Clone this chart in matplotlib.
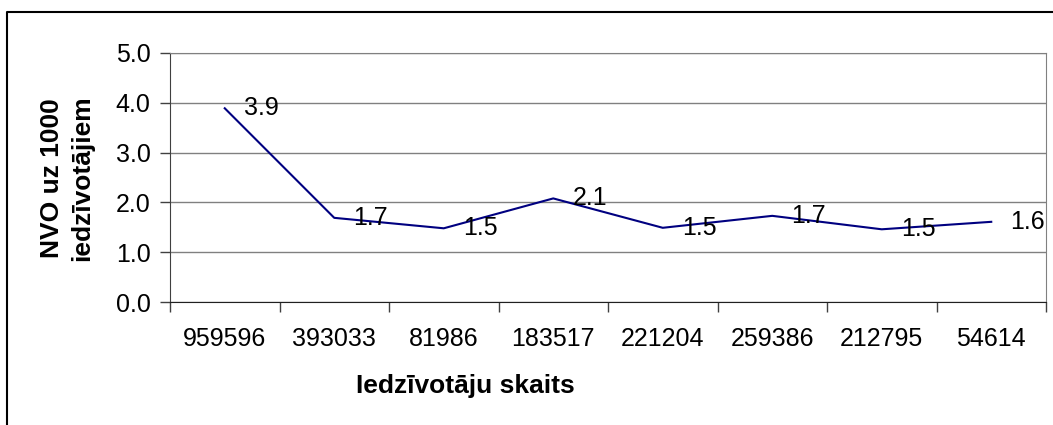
import matplotlib
matplotlib.use("Agg")
import matplotlib.pyplot as plt
from matplotlib.lines import Line2D

# population per municipality group and NGO count per 1000 inhabitants
populations = ["959596", "393033", "81986", "183517", "221204", "259386", "212795", "54614"]
ngo_per_1000 = [3.89, 1.69, 1.48, 2.08, 1.49, 1.73, 1.46, 1.61]
y_ticks = [0.0, 1.0, 2.0, 3.0, 4.0, 5.0]

plt.rcParams['font.family'] = ['Liberation Sans', 'DejaVu Sans']

W, H = 1053, 425
fig = plt.figure(figsize=(W / 100, H / 100), dpi=100)
ax = fig.add_axes([170 / W, 1 - 302 / H, (1046 - 170) / W, (302 - 53) / H])

x = list(range(len(populations)))
ax.plot(x, ngo_per_1000, color='#000080', lw=1.5, zorder=3)
for xi, v in zip(x, ngo_per_1000):
    ax.annotate(f"{v:.1f}", (xi, v), xytext=(19, 0), textcoords='offset pixels',
                ha='left', va='center', fontsize=18, color='black', zorder=4,
                annotation_clip=False)

ax.set_xlim(-0.5, len(populations) - 0.5)
ax.set_ylim(0, 5)
ax.set_yticks(y_ticks)
ax.set_yticklabels([f"{t:.1f}" for t in y_ticks])
ax.set_xticks(x)
ax.set_xticklabels(populations)
ax.set_xticks([i - 0.5 for i in range(len(populations) + 1)], minor=True)
ax.tick_params(axis='x', which='major', length=0, pad=18, labelsize=18)
ax.tick_params(axis='x', which='minor', length=7, width=1, color='#404040')
ax.tick_params(axis='y', length=7, width=1, pad=7, labelsize=18, color='#404040')

ax.yaxis.grid(True, color='#808080', lw=1)
ax.set_axisbelow(True)
for side in ['top', 'right']:
    ax.spines[side].set_color('#808080')
ax.spines['left'].set_color('#404040')
ax.spines['bottom'].set_color('#202020')

fig.text(67 / W, 1 - 178 / H, "NVO uz 1000\niedzīvotājiem", rotation=90,
         ha='center', va='center', multialignment='center',
         fontsize=19, fontweight='bold', linespacing=1.35)
fig.text(465 / W, 1 - 386 / H, "Iedzīvotāju skaits", ha='center', va='center',
         fontsize=19, fontweight='bold')

# outer chart frame (left and top edges visible)
fig.add_artist(Line2D([7 / W, 7 / W, 1.0], [0.0, 1 - 12 / H, 1 - 12 / H],
                      transform=fig.transFigure, color='black', lw=1.5))

fig.savefig("out.png", dpi=100)
